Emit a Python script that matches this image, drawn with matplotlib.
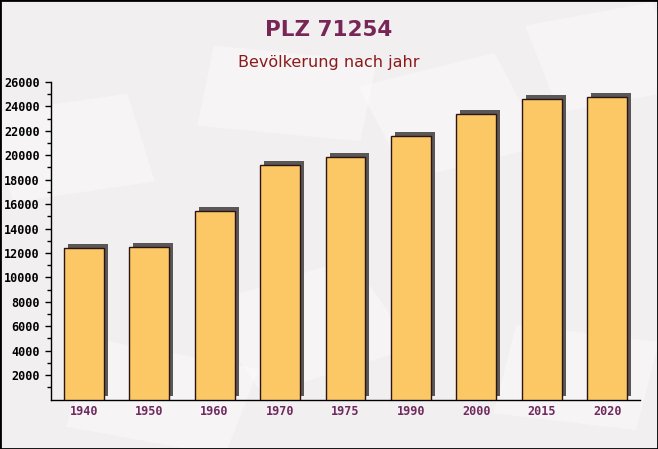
import matplotlib
matplotlib.use('Agg')
import matplotlib.pyplot as plt
import matplotlib.transforms as mtransforms
from matplotlib.patches import Rectangle
import numpy as np

# data
years = ['1940', '1950', '1960', '1970', '1975', '1990', '2000', '2015', '2020']
population = [12400, 12450, 15400, 19200, 19850, 21550, 23400, 24600, 24750]
y_ticks = list(range(2000, 26001, 2000))

BG = '#f2eff0'
BAR = '#fcc865'
SHADOW = '#5b5757'
TITLE_COLOR = '#772656'
SUB_COLOR = '#8b1a1a'
XLAB_COLOR = '#6e2a5e'

fig = plt.figure(figsize=(6.58, 4.49), dpi=100, facecolor=BG)

# background layer with faint envelope-like shapes
bg = fig.add_axes([0, 0, 1, 1], zorder=-1)
bg.set_xlim(0, 1)
bg.set_ylim(0, 1)
bg.axis('off')
for (x0, y0, w, h, ang) in [(0.02, 0.55, 0.22, 0.2, 12), (0.3, 0.72, 0.25, 0.18, -8),
                            (0.62, 0.6, 0.22, 0.22, 20), (0.1, 0.05, 0.25, 0.2, -15),
                            (0.4, 0.12, 0.25, 0.22, 25), (0.75, 0.08, 0.22, 0.2, -10),
                            (0.85, 0.75, 0.2, 0.2, 15)]:
    bg.add_patch(Rectangle((x0, y0), w, h, angle=ang, facecolor='white',
                           alpha=0.35, edgecolor='none'))
# black frame around the figure
bg.add_patch(Rectangle((0, 0), 1, 1, fill=False, edgecolor='black', linewidth=2))

ax = fig.add_axes([51 / 658, 49.5 / 449, 589 / 658, 317.5 / 449])
ax.set_facecolor('none')

x = np.arange(len(years))
width = 0.61
# shadow: same bars shifted right and up
shift = mtransforms.ScaledTranslation(4 / 100, 4 / 100, fig.dpi_scale_trans)
ax.bar(x, population, width=width, color=SHADOW, transform=ax.transData + shift,
       zorder=2, clip_on=False)
ax.bar(x, population, width=width, color=BAR, edgecolor='#2a1414', linewidth=1.0,
       zorder=3)

ax.set_xlim(-0.5, len(years) - 0.5)
ax.set_ylim(0, 26000)
ax.set_yticks(y_ticks)
ax.set_yticks(range(1000, 26000, 2000), minor=True)
ax.set_xticks(x)
ax.set_xticklabels(years)

for s in ['top', 'right']:
    ax.spines[s].set_visible(False)
for s in ['left', 'bottom']:
    ax.spines[s].set_color('black')
    ax.spines[s].set_linewidth(1.0)

ax.tick_params(axis='y', which='major', length=4, width=1, colors='black', pad=4)
ax.tick_params(axis='y', which='minor', length=3, width=1, colors='black')
ax.tick_params(axis='x', which='major', length=0, pad=4)
for lab in ax.get_yticklabels():
    lab.set_fontfamily('DejaVu Sans Mono')
    lab.set_fontweight('bold')
    lab.set_fontsize(8.5)
for lab in ax.get_xticklabels():
    lab.set_fontfamily('DejaVu Sans Mono')
    lab.set_fontweight('bold')
    lab.set_fontsize(8.5)
    lab.set_color(XLAB_COLOR)

fig.text(0.5, 1 - 30 / 449, 'PLZ 71254', ha='center', va='center',
         fontsize=15.5, fontweight='heavy', color=TITLE_COLOR, family='DejaVu Sans')
fig.text(0.5, 1 - 62 / 449, 'Bevölkerung nach jahr', ha='center', va='center',
         fontsize=11.5, color=SUB_COLOR, family='DejaVu Sans')

fig.savefig('out.png', dpi=100, facecolor=BG)
